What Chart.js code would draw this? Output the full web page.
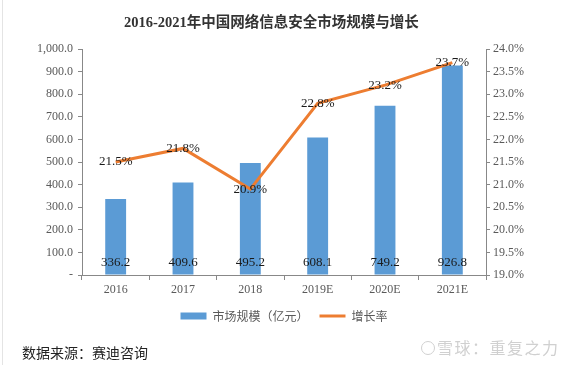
<!DOCTYPE html>
<html>
<head>
<meta charset="utf-8">
<script src="https://cdn.jsdelivr.net/npm/chart.js@4.4.0/dist/chart.umd.min.js"></script>
<style>
  html, body { margin: 0; padding: 0; background: #fff; }
  #wrap { position: relative; width: 568px; height: 365px; overflow: hidden; }
  #edge { position: absolute; left: 2px; top: 0; width: 1px; height: 365px; background: #e4e4e4; }
  #title { position: absolute; left: 124px; top: 10px; font: bold 14.5px "Liberation Serif", "Noto Sans CJK SC", serif; color: #333; white-space: nowrap; }
  #source { position: absolute; left: 22px; top: 342px; font: 14px "Noto Sans CJK SC", serif; color: #222; white-space: nowrap; }
  #mark { position: absolute; left: 421px; top: 335px; font: 16px "Noto Sans CJK SC", sans-serif; color: #d0d0d0; white-space: nowrap; letter-spacing: 1.5px; }
  #mark span { display: inline-block; width: 12px; height: 12px; border: 1.5px solid #d0d0d0; border-radius: 50%; vertical-align: -1px; margin-right: 2px; }
  canvas { position: absolute; left: 0; top: 0; }
</style>
</head>
<body>
<div id="wrap">
  <div id="edge"></div>
  <canvas id="chart" width="568" height="365"></canvas>
  <div id="title">2016-2021年中国网络信息安全市场规模与增长</div>
  <div id="source">数据来源：赛迪咨询</div>
  <div id="mark"><span></span>雪球：重复之力</div>
</div>
<script>
// Chart data
const years = ["2016", "2017", "2018", "2019E", "2020E", "2021E"];
const marketSize = [336.2, 409.6, 495.2, 608.1, 749.2, 926.8];
const growthRate = [21.5, 21.8, 20.9, 22.8, 23.2, 23.7];

const serif = "'Liberation Serif', 'Times New Roman', serif";
const blue = "#5b9bd5";
const orange = "#ed7d31";

// value labels (bars at the bottom, line labels centred on points)
const valueLabels = {
    id: "valueLabels",
    afterDatasetsDraw(chart) {
        const ctx = chart.ctx;
        ctx.save();
        ctx.font = "13px " + serif;
        ctx.fillStyle = "#1a1a1a";
        ctx.textAlign = "center";
        ctx.textBaseline = "middle";
        const barMeta = chart.getDatasetMeta(0);
        barMeta.data.forEach((bar, i) => {
            ctx.fillText(marketSize[i].toFixed(1), bar.x, chart.chartArea.bottom - 12);
        });
        const lineMeta = chart.getDatasetMeta(1);
        lineMeta.data.forEach((pt, i) => {
            ctx.fillText(growthRate[i].toFixed(1) + "%", pt.x, pt.y);
        });
        ctx.restore();
    }
};

const ctx = document.getElementById("chart").getContext("2d");
new Chart(ctx, {
    type: "bar",
    data: {
        labels: years,
        datasets: [
            {
                type: "bar",
                label: "市场规模（亿元）",
                data: marketSize,
                backgroundColor: blue,
                yAxisID: "y",
                order: 1,
                categoryPercentage: 1,
                barPercentage: 0.31,
                pointStyle: "rect"
            },
            {
                type: "line",
                label: "增长率",
                data: growthRate,
                borderColor: orange,
                backgroundColor: orange,
                borderWidth: 3,
                pointRadius: 0,
                pointStyle: "line",
                pointBorderWidth: 3,
                tension: 0,
                yAxisID: "y1",
                order: 0
            }
        ]
    },
    options: {
        responsive: false,
        animation: false,
        layout: { padding: { top: 49, left: 0, right: 0, bottom: 33 } },
        plugins: {
            title: { display: false },
            tooltip: { enabled: false },
            legend: {
                position: "bottom",
                labels: {
                    usePointStyle: true,
                    pointStyleWidth: 26,
                    boxHeight: 7,
                    padding: 11,
                    color: "#595959",
                    font: { size: 12, family: "'Noto Sans CJK SC', sans-serif" },
                    sort: (a, b) => a.datasetIndex - b.datasetIndex
                }
            }
        },
        scales: {
            x: {
                grid: { display: true, drawOnChartArea: false, tickLength: 5, color: "#888", offset: true },
                border: { color: "#888" },
                ticks: { color: "#595959", font: { size: 12, family: serif } },
                afterFit: s => { s.height = 24; }
            },
            y: {
                position: "left",
                min: 0,
                max: 1000,
                grid: { display: true, drawOnChartArea: false, tickLength: 4, color: "#888" },
                border: { color: "#888" },
                ticks: {
                    stepSize: 100,
                    color: "#595959",
                    padding: 5,
                    font: { size: 12, family: serif },
                    callback: v => v === 0 ? "-" : v.toLocaleString("en-US", { minimumFractionDigits: 1 })
                },
                afterFit: s => { s.width = 82; }
            },
            y1: {
                position: "right",
                min: 19,
                max: 24,
                grid: { display: true, drawOnChartArea: false, tickLength: 4, color: "#888" },
                border: { color: "#888" },
                ticks: {
                    stepSize: 0.5,
                    color: "#595959",
                    padding: 3,
                    font: { size: 12, family: serif },
                    callback: v => v.toFixed(1) + "%"
                },
                afterFit: s => { s.width = 82; }
            }
        }
    },
    plugins: [valueLabels]
});
</script>
</body>
</html>
